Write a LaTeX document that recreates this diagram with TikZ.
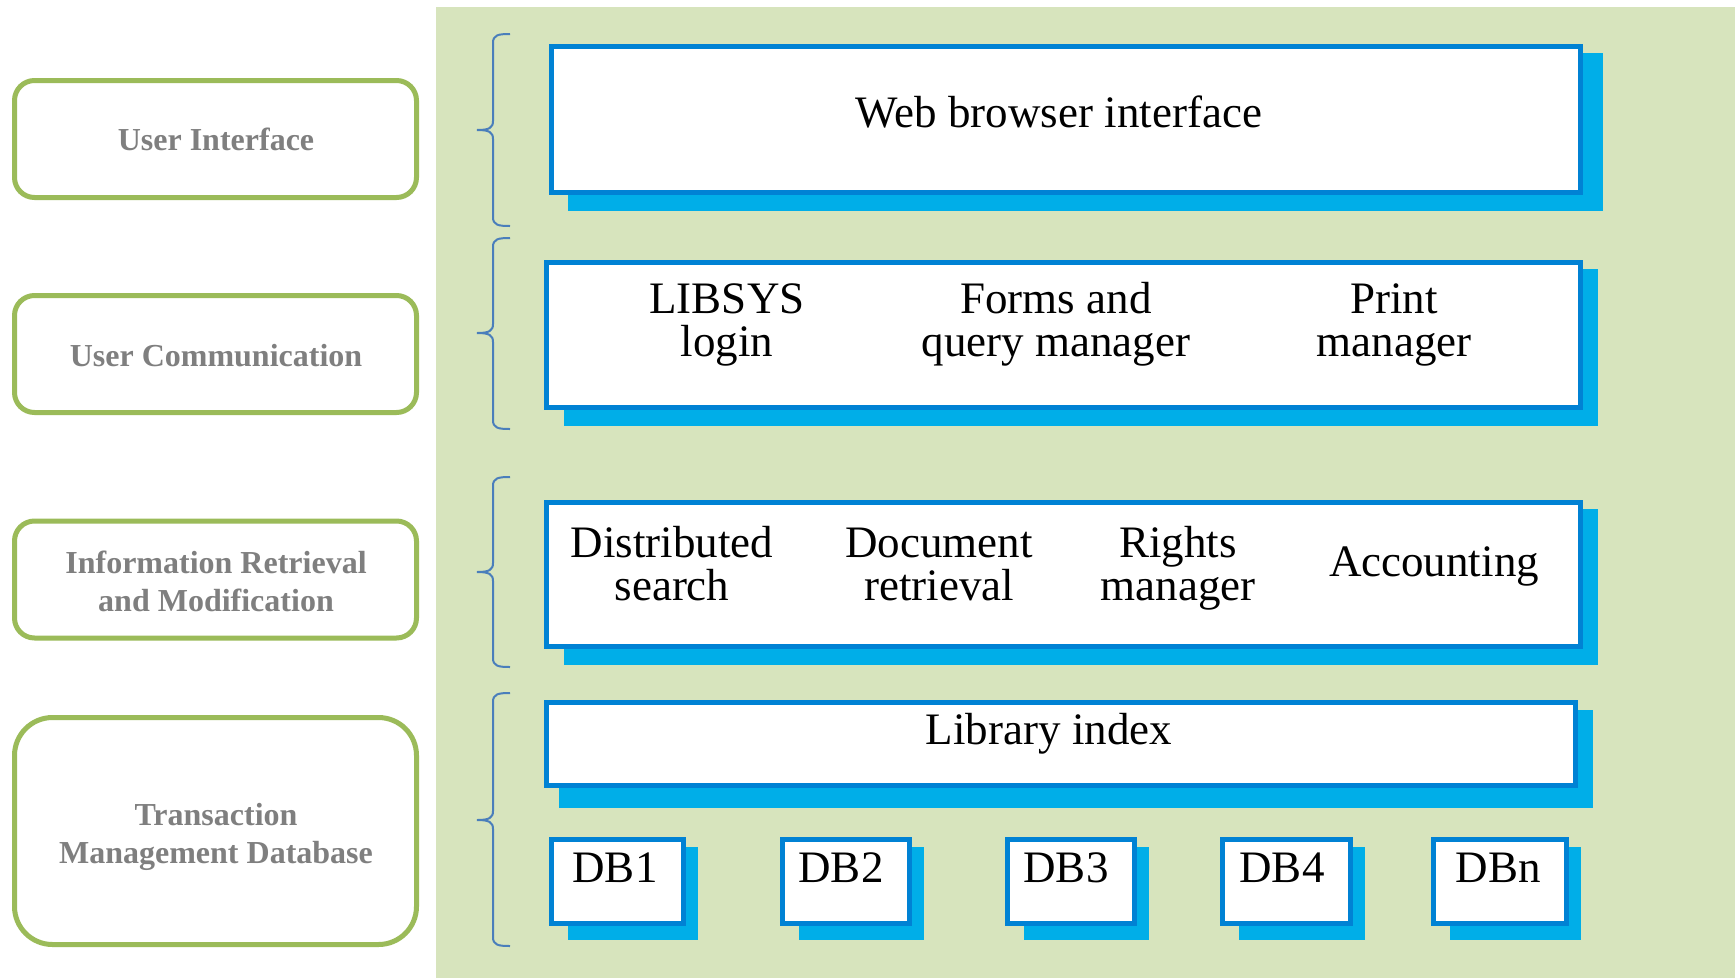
\documentclass[tikz,border=0pt]{standalone}
\usepackage{fontspec}
\setmainfont{Liberation Serif}
\definecolor{bgc}{HTML}{D7E4BD}
\definecolor{greenc}{HTML}{9BBB59}
\definecolor{grayc}{HTML}{7F7F7F}
\definecolor{bluec}{HTML}{0082D4}
\definecolor{shadowc}{HTML}{00AEE8}
\definecolor{bracec}{HTML}{4A7EBB}
\pgfdeclarelayer{bg}
\pgfsetlayers{bg,main}
\newcommand\mybrace[3]{%
  \draw[brc] (510,#1) .. controls (498,#1) and (493,#1+1) .. (493,#1+9)
    -- (493,#3-9) .. controls (493,#3-2) and (489,#3) .. (477,#3)
    .. controls (489,#3) and (493,#3+2) .. (493,#3+9)
    -- (493,#2-9) .. controls (493,#2-1) and (498,#2) .. (510,#2);}
\begin{document}
\begin{tikzpicture}[x=1pt,y=-1pt,
  lbox/.style={draw=greenc, line width=5pt, fill=white, rounded corners=20pt,
    minimum width=402pt, outer sep=0pt, inner sep=0pt},
  lbl/.style={text=grayc, font=\fontsize{32}{37.5}\selectfont\bfseries,
    align=center, anchor=base, inner sep=0pt},
  bbox/.style={draw=bluec, line width=5pt, fill=white, outer sep=0pt, inner sep=0pt},
  dbbox/.style={bbox, minimum height=84pt},
  shd/.style={fill=shadowc},
  txt/.style={font=\fontsize{45}{43}\selectfont, align=center, anchor=base, inner sep=0pt},
  brc/.style={draw=bracec, line width=2pt}]

\useasboundingbox (0,0) rectangle (1735,978);

% left labels
\node[lbox, minimum height=117pt] (ui) at (215.5,139) {};
\node[lbl] (uit) at (216,150) {User Interface};
\node[lbox, minimum height=117pt] (uc) at (215.5,354) {};
\node[lbl] (uct) at (216,366) {User Communication};
\node[lbox, minimum height=117pt] (irm) at (215.5,579.5) {};
\node[lbl] (irmt) at (216,611) {Information Retrieval\\and Modification};
\node[lbox, minimum height=227pt, rounded corners=38pt] (tmd) at (215.5,831) {};
\node[lbl] (tmdt) at (216,863) {Transaction\\Management Database};

% braces
\mybrace{34}{226}{130}
\mybrace{238}{429}{333}
\mybrace{477}{667}{572}
\mybrace{693}{946}{820}

% blue boxes
\node[bbox, minimum width=1029pt, minimum height=146pt] (web) at (1066,119.5) {};
\node[bbox, minimum width=1034pt, minimum height=145pt] (comm) at (1063.5,335) {};
\node[bbox, minimum width=1034pt, minimum height=144pt] (ret) at (1063.5,574.5) {};
\node[bbox, minimum width=1029pt, minimum height=83pt] (lib) at (1061,744) {};
\node[dbbox, minimum width=132pt] (db1) at (617.5,881.5) {};
\node[dbbox, minimum width=127pt] (db2) at (846,881.5) {};
\node[dbbox, minimum width=127pt] (db3) at (1071,881.5) {};
\node[dbbox, minimum width=128pt] (db4) at (1286.5,881.5) {};
\node[dbbox, minimum width=133pt] (dbn) at (1500,881.5) {};

\begin{pgfonlayer}{bg}
\fill[white] (0,0) rectangle (1735,978);
\fill[bgc] (436,7) rectangle (1735,978);
\fill[shd] ([shift={(16.5,6.5)}]web.north west) rectangle ([shift={(22.5,18.5)}]web.south east);
\fill[shd] ([shift={(17.5,6.5)}]comm.north west) rectangle ([shift={(17.5,18.5)}]comm.south east);
\fill[shd] ([shift={(17.5,6.5)}]ret.north west) rectangle ([shift={(17.5,18.5)}]ret.south east);
\fill[shd] ([shift={(12.5,7.5)}]lib.north west) rectangle ([shift={(17.5,22.5)}]lib.south east);
\foreach \b in {db1,db2,db3,db4,dbn}{
  \fill[shd] ([shift={(16.5,7.5)}]\b.north west) rectangle ([shift={(14.5,16.5)}]\b.south east);
}
\end{pgfonlayer}

% texts
\node[txt] (webt) at (1059,127) {Web browser interface};
\node[txt] (libsys) at (727,356) {LIBSYS\\login};
\node[txt] (forms) at (1056,356) {Forms and\\query manager};
\node[txt] (print) at (1394,356) {Print\\manager};
\node[txt] (dist) at (672,600) {Distributed\\search};
\node[txt] (doc) at (939,600) {Document\\retrieval};
\node[txt] (rights) at (1178,600) {Rights\\manager};
\node[txt] (acct) at (1434,576) {Accounting};
\node[txt] (libt) at (1049,744) {Library index};
\node[txt] (db1t) at (615,882) {DB1};
\node[txt] (db2t) at (841,882) {DB2};
\node[txt] (db3t) at (1066,882) {DB3};
\node[txt] (db4t) at (1282,882) {DB4};
\node[txt] (dbnt) at (1498,882) {DBn};
\end{tikzpicture}
\end{document}
